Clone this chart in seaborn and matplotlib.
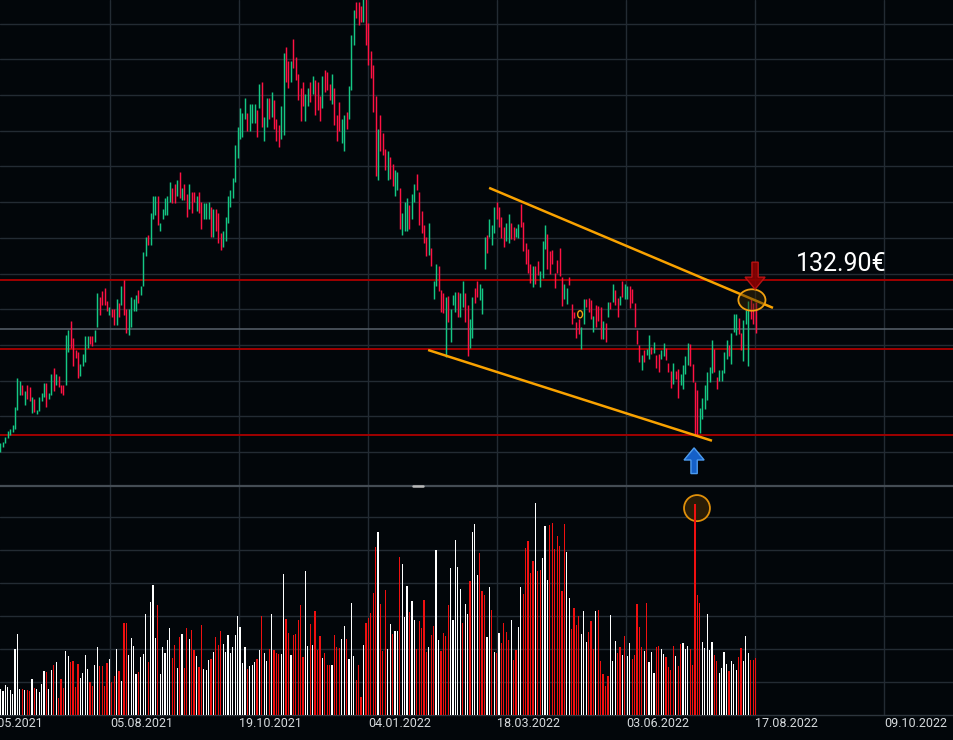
import numpy as np
import pandas as pd
import matplotlib
matplotlib.use("Agg")
import matplotlib.pyplot as plt
import matplotlib.transforms as mtransforms
from matplotlib.lines import Line2D
from matplotlib.patches import Ellipse, FancyArrow
import seaborn as sns

# ---------------- data ----------------
HIGH = [
    111.3, 111.4, 112.1, 113.0, 113.2, 113.8, 116.3, 120.4, 120.0, 119.4,
    118.6, 119.4, 119.1, 117.7, 117.4, 115.9, 117.7, 118.3, 119.7, 119.7,
    118.3, 120.9, 121.8, 120.9, 120.7, 119.4, 119.4, 126.4, 127.1, 128.4,
    126.0, 124.3, 124.0, 122.3, 123.7, 126.3, 126.3, 126.3, 126.3, 127.1,
    132.3, 131.7, 132.6, 133.0, 131.2, 130.3, 130.0, 130.0, 131.4, 130.9,
    133.3, 134.1, 130.0, 130.0, 131.7, 131.4, 132.0, 132.7, 133.3, 138.0,
    140.1, 140.4, 143.5, 145.9, 145.9, 145.9, 142.1, 144.0, 145.6, 145.9,
    147.8, 147.0, 147.5, 148.1, 149.2, 147.0, 147.5, 146.1, 147.5, 146.4,
    146.4, 145.9, 146.4, 145.0, 144.9, 144.9, 145.0, 144.3, 144.0, 144.0,
    143.5, 140.7, 141.0, 142.9, 145.9, 146.7, 148.4, 153.0, 155.5, 158.2,
    157.5, 159.6, 157.5, 158.7, 158.7, 158.7, 157.9, 161.5, 161.8, 156.9,
    159.6, 159.6, 160.4, 159.3, 156.6, 155.8, 158.5, 165.9, 166.7, 164.8,
    164.8, 167.8, 165.3, 162.9, 161.0, 161.8, 160.1, 161.0, 161.8, 162.7,
    162.1, 161.8, 159.9, 162.7, 163.5, 163.2, 161.5, 162.9, 161.0, 157.2,
    159.0, 156.6, 157.2, 157.6, 161.3, 168.4, 171.9, 173.0, 173.0, 172.5,
    174.0, 173.5, 170.1, 166.2, 164.2, 159.9, 155.2, 157.2, 154.7, 152.4,
    152.2, 151.3, 150.3, 149.5, 149.2, 147.0, 143.5, 145.0, 145.6, 144.6,
    146.1, 147.5, 148.9, 146.4, 143.8, 141.8, 140.1, 142.1, 138.6, 134.0,
    136.3, 136.1, 132.7, 132.3, 131.7, 131.9, 130.0, 132.0, 132.4, 132.4,
    132.3, 134.0, 132.3, 130.6, 128.6, 131.7, 133.0, 134.0, 133.5, 133.0,
    140.1, 140.4, 142.6, 141.8, 144.3, 145.0, 144.3, 142.9, 141.5, 142.1,
    143.3, 142.1, 141.5, 141.4, 141.9, 144.7, 142.2, 139.3, 138.4, 136.3,
    136.1, 136.1, 136.8, 135.4, 139.6, 141.8, 140.5, 138.2, 138.3, 135.1,
    136.9, 138.6, 134.5, 133.5, 133.0, 134.5, 130.7, 129.6, 128.2, 128.6,
    127.5, 131.4, 131.4, 131.6, 131.3, 129.1, 130.6, 130.5, 130.3, 128.4,
    128.1, 131.0, 131.0, 133.5, 132.7, 131.6, 131.9, 134.0, 133.5, 133.3,
    133.3, 132.8, 130.9, 127.1, 125.0, 123.6, 124.3, 124.4, 126.4, 124.7,
    125.4, 123.6, 123.7, 124.3, 125.3, 124.6, 122.5, 121.4, 122.5, 121.4,
    121.6, 120.9, 122.2, 123.5, 125.3, 125.1, 122.3, 119.8, 118.7, 116.2,
    117.6, 119.4, 121.2, 121.9, 125.7, 124.4, 120.5, 121.5, 121.5, 124.0,
    125.7, 125.0, 126.7, 129.3, 129.3, 128.8, 126.7, 128.5, 129.9, 131.2,
    131.6, 130.9, 131.0,
]
LOW = [
    110.0, 110.7, 111.3, 112.0, 112.4, 112.8, 113.2, 115.9, 118.0, 118.0,
    116.6, 117.4, 117.2, 115.5, 115.6, 115.3, 115.8, 117.2, 117.7, 116.3,
    117.4, 118.0, 118.6, 119.4, 119.1, 118.3, 118.0, 119.4, 124.0, 124.6,
    122.1, 123.2, 120.4, 120.7, 122.1, 122.6, 124.6, 125.1, 124.9, 125.4,
    127.5, 129.2, 130.6, 130.6, 129.8, 129.2, 128.9, 127.8, 127.8, 128.9,
    130.6, 129.2, 126.7, 126.4, 127.5, 129.8, 129.8, 130.9, 132.0, 133.3,
    137.5, 139.0, 139.0, 142.6, 143.2, 141.8, 141.0, 142.6, 143.2, 143.2,
    145.0, 144.9, 144.9, 145.9, 145.6, 145.3, 145.3, 142.9, 144.0, 143.5,
    145.0, 143.8, 143.5, 141.2, 142.6, 142.6, 142.6, 140.1, 140.1, 141.0,
    139.3, 138.3, 138.7, 139.6, 142.1, 144.3, 145.6, 147.8, 151.2, 153.8,
    154.1, 156.6, 155.0, 155.0, 156.1, 156.1, 154.1, 158.2, 155.5, 153.6,
    155.5, 156.6, 156.9, 155.2, 153.6, 152.7, 153.8, 154.4, 161.8, 161.0,
    161.8, 163.8, 162.1, 159.3, 156.4, 158.5, 156.4, 158.5, 159.0, 160.1,
    157.2, 157.9, 156.4, 158.2, 160.4, 160.7, 159.3, 158.7, 155.8, 153.6,
    155.0, 153.3, 152.2, 155.2, 156.6, 160.7, 167.0, 170.8, 169.8, 170.2,
    170.2, 167.0, 164.2, 162.4, 157.6, 148.7, 148.1, 152.2, 151.6, 149.5,
    148.1, 148.2, 147.3, 145.9, 146.7, 141.2, 140.4, 141.0, 141.0, 141.2,
    142.6, 145.0, 146.7, 141.8, 140.7, 139.3, 137.5, 137.6, 136.1, 131.4,
    133.3, 132.6, 129.6, 129.5, 123.3, 128.2, 125.4, 130.6, 129.6, 128.9,
    128.9, 130.3, 128.2, 123.5, 124.6, 126.0, 130.9, 131.7, 131.3, 129.3,
    135.6, 137.9, 140.1, 139.0, 140.7, 142.6, 141.5, 140.0, 138.7, 139.6,
    139.3, 139.8, 139.7, 140.1, 140.0, 141.5, 138.2, 136.3, 135.1, 133.7,
    133.1, 133.5, 134.8, 133.1, 134.4, 138.4, 135.6, 134.9, 136.3, 133.0,
    135.1, 134.7, 130.5, 131.4, 130.7, 133.4, 127.9, 128.8, 126.0, 126.5,
    124.4, 127.9, 130.3, 129.6, 128.6, 126.8, 127.5, 128.4, 125.8, 125.8,
    125.4, 128.9, 130.0, 131.0, 130.6, 128.9, 130.6, 131.7, 131.4, 131.4,
    130.2, 130.9, 127.5, 125.1, 122.6, 121.5, 122.6, 123.6, 123.0, 123.7,
    123.9, 121.8, 121.2, 123.0, 123.5, 122.9, 121.2, 119.0, 119.5, 120.2,
    117.6, 119.4, 118.8, 120.9, 122.2, 122.1, 119.8, 112.4, 112.4, 112.7,
    114.6, 116.0, 117.3, 119.8, 121.1, 121.2, 118.8, 120.0, 120.0, 121.1,
    123.0, 123.5, 122.3, 126.8, 126.4, 126.5, 124.3, 122.8, 127.9, 122.1,
    128.6, 127.9, 126.7,
]
CANDLE_DIR = (
    "g g g g g g g g g r  g r r g r g g g g r  g g r g r r r g g r  r r r g g g g r r g "
    "g r r r r g r r g r  g r r g g g g r g g  g r g g g r g g g g  g r r g r g r r g r "
    "r g r r g g g r g r  r r g g g g g g g g  g g r g g g r g r g  g r g r r r g g r r "
    "g r r r r r g g r g  r r r g r r r g r r  r g g r g g g r r r  g r r r r r g r r r "
    "g r r g g r g g g r  g g r r r r r g r g  g r r r g r g g g r  g g r r g g r r g g "
    "g r g g g r r r r g  g r r g g r r r r r  g r r g g g r r r r  r r r g g r r r r r "
    "g g r r r g r r r g  r g r g r r g r g g  r r r r r g r g g r  g r r g g r r r g r "
    "r g g g g r r r r g  g g g g g r r g g g  g r g g g r r g g g  r r r"
).split()

VOLUME = [
    0.80, 0.72, 0.90, 0.84, 0.75, 0.63, 2.00, 2.45, 0.80, 0.80,
    0.75, 0.77, 0.72, 1.10, 0.83, 0.78, 0.69, 0.95, 1.32, 1.29,
    0.80, 1.35, 1.53, 1.61, 0.53, 1.08, 0.83, 1.94, 1.80, 1.62,
    1.65, 0.84, 1.56, 1.11, 1.26, 1.83, 1.38, 0.99, 0.87, 1.53,
    2.07, 1.50, 1.47, 0.87, 1.59, 1.71, 0.99, 1.17, 2.01, 1.32,
    1.02, 2.79, 2.79, 1.83, 2.34, 2.10, 1.23, 1.29, 1.77, 1.86,
    3.06, 1.60, 3.42, 3.93, 2.34, 3.33, 1.23, 2.07, 1.89, 2.28,
    2.64, 1.74, 2.13, 1.41, 2.37, 2.46, 1.41, 2.64, 2.31, 2.58,
    1.98, 1.80, 1.44, 2.73, 1.38, 1.35, 1.68, 1.71, 1.92, 2.37,
    2.13, 2.55, 2.16, 1.92, 2.43, 1.89, 2.07, 2.43, 3.00, 2.67,
    1.59, 2.07, 1.38, 1.50, 1.53, 1.62, 1.71, 1.98, 3.00, 1.89,
    1.65, 2.01, 3.06, 1.98, 1.89, 1.86, 1.86, 4.26, 2.91, 2.49,
    1.83, 2.43, 2.46, 2.88, 3.33, 1.77, 4.35, 2.10, 2.76, 2.13,
    3.15, 1.98, 2.40, 1.74, 1.89, 1.53, 1.53, 1.53, 2.43, 2.07,
    2.04, 2.31, 2.70, 2.31, 1.71, 3.39, 1.80, 1.05, 1.53, 0.54,
    2.13, 2.79, 2.94, 3.09, 3.69, 5.10, 5.55, 3.36, 1.95, 3.78,
    2.01, 2.76, 2.46, 2.55, 2.55, 4.80, 4.59, 2.97, 3.90, 3.12,
    3.45, 2.88, 2.01, 2.85, 2.64, 3.48, 1.92, 2.07, 2.43, 2.70,
    5.01, 2.28, 1.95, 2.49, 2.40, 3.33, 4.47, 2.88, 5.31, 4.50,
    3.81, 2.79, 3.36, 3.06, 4.05, 5.55, 5.79, 4.23, 4.92, 3.75,
    3.63, 2.37, 3.87, 3.18, 1.92, 1.89, 2.49, 2.19, 2.79, 2.52,
    2.28, 2.88, 1.68, 1.98, 2.67, 3.87, 3.66, 5.07, 5.28, 4.29,
    4.68, 6.42, 4.35, 4.38, 4.77, 5.73, 4.08, 5.76, 5.82, 5.04,
    5.43, 5.13, 3.75, 5.79, 4.95, 3.54, 2.61, 3.24, 2.73, 3.00,
    2.46, 3.15, 2.22, 2.52, 2.85, 2.01, 3.15, 3.18, 1.65, 1.25,
    0.87, 1.17, 3.03, 1.65, 2.25, 1.89, 2.07, 1.83, 2.40, 1.80,
    2.19, 1.71, 1.83, 3.36, 2.67, 2.07, 1.95, 3.39, 1.62, 1.92,
    1.26, 2.07, 2.10, 2.01, 1.86, 1.75, 1.44, 1.35, 2.10, 1.80,
    1.47, 2.16, 2.19, 2.01, 2.10, 2.01, 1.53, 6.39, 3.63, 3.39,
    2.22, 2.04, 3.06, 1.98, 2.22, 1.83, 1.65, 1.26, 1.41, 1.92,
    1.56, 1.32, 1.65, 1.56, 1.35, 1.77, 2.04, 1.65, 2.40, 1.89,
    1.68, 1.68, 1.74,
]
VOL_DIR = (
    "w w w w w w w w w r  w r r w r w w w w r  w w r w r r r w w r  r r r w w w w r r w "
    "w r r r r w r r w r  w r r w w w w r w w  w r w w w r w w w w  w r r w r w r r w r "
    "r w r r w w w r w r  r r w w w w w w w w  w w r w w w r w r w  w r w r r r w w r r "
    "w r r r r r w w r w  r r r w r r r w r r  r w w r w w w r r r  w r r r r r w r r r "
    "w w r w w r w w w r  w w r r r r r w r r  w w r r r r w w w w  w r w w r w w w r r "
    "r w w r w r w r r r  r w r r w w r r r r  r w r r w w w r r r  r r r r w w r r r r "
    "w w w r r r w r r r  r r w w w r r w r w  w r r r r r w r w w  w r r w w r r r r w "
    "r r w w w r r r r r  w w w w w r r w w w  w r w w w r r w w w  r r r"
).split()

TICK_POS = [-8.1, 45.2, 98.5, 151.8, 205.1, 258.4, 311.7, 365.0]
TICK_LABELS = ["24.05.2021", "05.08.2021", "19.10.2021", "04.01.2022",
               "18.03.2022", "03.06.2022", "17.08.2022", "09.10.2022"]

RED_LEVELS = [134.1, 124.4, 112.4]
GRAY_LEVELS = [127.2]
UPPER_TREND_X, UPPER_TREND_Y = [201.9, 319.2], [147.0, 130.2]
LOWER_TREND_X, LOWER_TREND_Y = [176.7, 294.0], [124.3, 111.6]
PRICE_LABEL = "132.90€"

# ---------------- style ----------------
BG = "#02060a"
GRID = "#232b33"
sns.set_theme(style="dark", rc={"axes.facecolor": BG, "figure.facecolor": BG})
plt.rcParams["font.family"] = ["Roboto", "DejaVu Sans"]

fig = plt.figure(figsize=(9.54, 7.40), dpi=100)
ax = fig.add_axes([0, (740 - 486) / 740, 1, 486 / 740])
axv = fig.add_axes([0, 25 / 740, 1, 229 / 740])

n = len(HIGH)
idx = np.arange(n)
XLIM = (-0.2, 394.0)

for a in (ax, axv):
    a.set_facecolor(BG)
    for s in a.spines.values():
        s.set_visible(False)
    a.set_axisbelow(True)
    a.tick_params(length=0, labelleft=False, labelbottom=False)
    a.grid(True, color=GRID, lw=1.0)

# ---------------- price pane ----------------
up_c, dn_c = "#14c784", "#ff1243"
colors = [up_c if d == "g" else dn_c for d in CANDLE_DIR]
ax.vlines(idx, LOW, HIGH, colors=colors, lw=1.05, zorder=3)

for lv in RED_LEVELS:
    ax.axhline(lv, color="#a00000", lw=1.4, zorder=2)
for lv in GRAY_LEVELS:
    ax.axhline(lv, color="#57616b", lw=1.1, zorder=2)

ax.plot(UPPER_TREND_X, UPPER_TREND_Y, color="#f9a200", lw=1.8, zorder=4,
        solid_capstyle="butt")
ax.plot(LOWER_TREND_X, LOWER_TREND_Y, color="#f9a200", lw=1.8, zorder=4,
        solid_capstyle="butt")

ax.add_patch(Ellipse((310.5, 131.3), 11.2, 3.0, facecolor="#3a2a06", alpha=0.45,
                     edgecolor="none", zorder=5))
ax.add_patch(Ellipse((310.5, 131.3), 11.2, 3.0, facecolor="none",
                     edgecolor="#f0a010", lw=1.3, zorder=6))
ax.add_patch(Ellipse((239.5, 129.3), 2.0, 1.0, facecolor="none",
                     edgecolor="#f0a010", lw=1.0, zorder=6))

ax.add_patch(FancyArrow(311.8, 136.6, 0, -3.8, width=2.6, head_width=8.3,
                        head_length=1.7, length_includes_head=True,
                        facecolor="#8a0000", edgecolor="#c41414", lw=1.0,
                        alpha=0.9, zorder=7, clip_on=False))
ax.add_patch(FancyArrow(286.6, 107.0, 0, 3.6, width=2.6, head_width=8.3,
                        head_length=1.7, length_includes_head=True,
                        facecolor="#1560c8", edgecolor="#4d9cf0", lw=1.0,
                        zorder=7, clip_on=False))

ax.text(328.6, 136.3, PRICE_LABEL, color="white", fontsize=18, ha="left",
        va="center", family=["Roboto", "DejaVu Sans"], zorder=8)

ax.set_yticks(np.arange(110, 171, 5))
ax.set_xticks(TICK_POS)
ax.set_xlim(*XLIM)
ax.set_ylim(105.26, 173.3)

# ---------------- volume pane ----------------
df_vol = pd.DataFrame({"idx": idx, "vol": VOLUME, "dir": VOL_DIR})
sns.barplot(data=df_vol, x="idx", y="vol", hue="dir",
            palette={"w": "#ffffff", "r": "#f01010"}, native_scale=True,
            width=0.5, dodge=False, legend=False, errorbar=None,
            saturation=1, linewidth=0, ax=axv, zorder=3)
axv.add_patch(Ellipse((287.8, 6.27), 10.7, 0.79, facecolor="#2a1c06",
                      edgecolor="#e0900a", lw=1.3, zorder=2))
axv.set_yticks(np.arange(1, 7))
axv.set_xticks(TICK_POS)
axv.set_xlim(*XLIM)
axv.set_ylim(0, 6.94)
axv.set_xlabel("")
axv.set_ylabel("")
axv.tick_params(length=0, labelleft=False, labelbottom=False)
axv.spines["bottom"].set_visible(True)
axv.spines["bottom"].set_color("#2d353d")
axv.spines["bottom"].set_linewidth(1.0)

trans = mtransforms.blended_transform_factory(axv.transData, axv.transAxes)
for pos, lab in zip(TICK_POS, TICK_LABELS):
    t = axv.text(pos, -0.035, lab, transform=trans, ha="left", va="center",
                 fontsize=9, color="#d6dadd", family=["Roboto", "DejaVu Sans"])
    t.set_clip_on(True)
    t.set_clip_box(fig.bbox)

# pane separator and small handle
ysep = (740 - 486) / 740
fig.add_artist(Line2D([0, 1], [ysep, ysep], transform=fig.transFigure,
                      color="#444c54", lw=1.6))
fig.add_artist(Line2D([413 / 954, 423 / 954], [ysep, ysep],
                      transform=fig.transFigure, color="#b8b8b8", lw=1.8))

fig.savefig("out.png", dpi=100, facecolor=BG)
